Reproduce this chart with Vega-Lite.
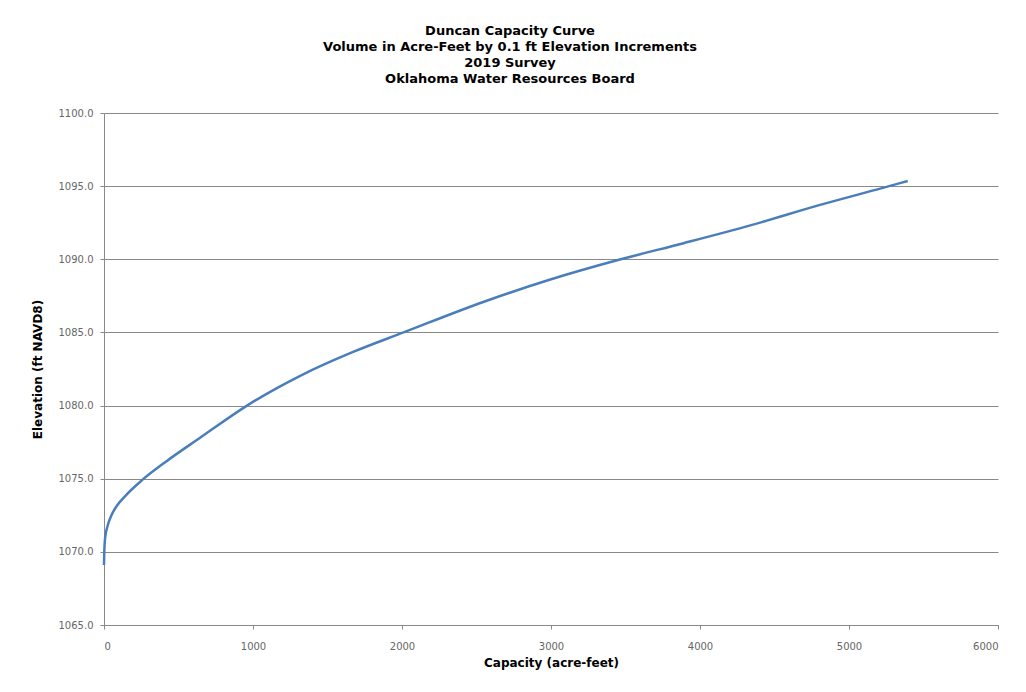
{
  "$schema": "https://vega.github.io/schema/vega-lite/v6.json",
  "autosize": {"type": "none"},
  "width": 894,
  "height": 512,
  "padding": {"left": 104, "top": 113, "right": 28, "bottom": 67},
  "background": "white",
  "title": {
    "text": ["Duncan Capacity Curve", "Volume in Acre-Feet by 0.1 ft Elevation Increments", "2019 Survey", "Oklahoma Water Resources Board"],
    "anchor": "middle",
    "dx": -41,
    "font": "DejaVu Sans",
    "fontSize": 13,
    "fontWeight": "bold",
    "color": "#000000",
    "lineHeight": 16,
    "offset": 22
  },
  "data": {
    "values": [
      {"capacity": 0, "elevation": 1069.1},
      {"capacity": 2, "elevation": 1070.0},
      {"capacity": 8, "elevation": 1071.0},
      {"capacity": 25, "elevation": 1071.8},
      {"capacity": 50, "elevation": 1072.5},
      {"capacity": 90, "elevation": 1073.2},
      {"capacity": 150, "elevation": 1073.9},
      {"capacity": 255, "elevation": 1074.9},
      {"capacity": 420, "elevation": 1076.2},
      {"capacity": 645, "elevation": 1077.8},
      {"capacity": 960, "elevation": 1080.0},
      {"capacity": 1330, "elevation": 1082.1},
      {"capacity": 1680, "elevation": 1083.7},
      {"capacity": 2010, "elevation": 1085.0},
      {"capacity": 2550, "elevation": 1087.1},
      {"capacity": 2990, "elevation": 1088.6},
      {"capacity": 3468, "elevation": 1090.0},
      {"capacity": 3890, "elevation": 1091.1},
      {"capacity": 4350, "elevation": 1092.35},
      {"capacity": 4800, "elevation": 1093.7},
      {"capacity": 5215, "elevation": 1094.85},
      {"capacity": 5394, "elevation": 1095.35}
    ]
  },
  "mark": {"type": "line", "color": "#4a7ebb", "strokeWidth": 2.5, "interpolate": "monotone"},
  "encoding": {
    "x": {
      "field": "capacity",
      "type": "quantitative",
      "scale": {"domain": [0, 6000], "nice": false},
      "axis": {
        "title": "Capacity (acre-feet)",
        "values": [0, 1000, 2000, 3000, 4000, 5000, 6000],
        "format": "d",
        "grid": false,
        "domainColor": "#898989",
        "tickColor": "#898989",
        "tickSize": 4,
        "labelColor": "#666666",
        "labelFont": "DejaVu Sans",
        "labelFontSize": 10,
        "labelPadding": 12,
        "titleFont": "DejaVu Sans",
        "titleFontSize": 12,
        "titleFontWeight": "bold",
        "titleColor": "#000000",
        "titlePadding": 6
      }
    },
    "y": {
      "field": "elevation",
      "type": "quantitative",
      "scale": {"domain": [1065, 1100], "nice": false, "zero": false},
      "axis": {
        "title": "Elevation (ft NAVD8)",
        "values": [1065, 1070, 1075, 1080, 1085, 1090, 1095, 1100],
        "format": ".1f",
        "grid": true,
        "gridColor": "#898989",
        "gridWidth": 1,
        "domainColor": "#898989",
        "tickColor": "#898989",
        "tickSize": 4,
        "labelColor": "#666666",
        "labelFont": "DejaVu Sans",
        "labelFontSize": 10,
        "labelPadding": 7,
        "titleFont": "DejaVu Sans",
        "titleFontSize": 12,
        "titleFontWeight": "bold",
        "titleColor": "#000000",
        "titlePadding": 14
      }
    },
    "order": {"field": "elevation", "type": "quantitative"}
  },
  "config": {"view": {"stroke": null}}
}
